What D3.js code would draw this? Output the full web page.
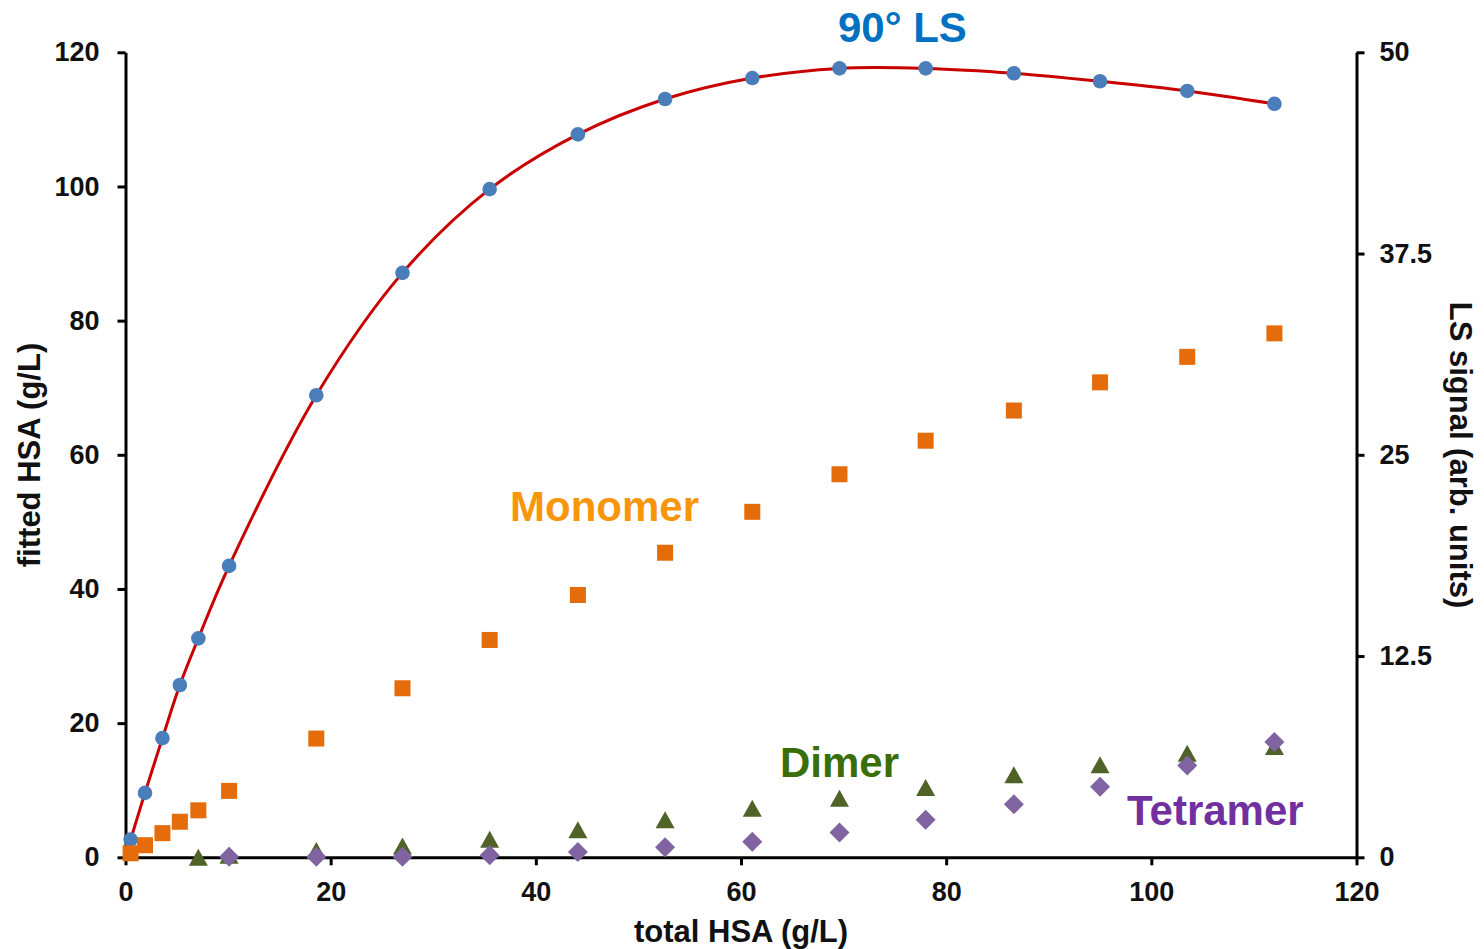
<!DOCTYPE html>
<html><head><meta charset="utf-8">
<script src="https://cdn.jsdelivr.net/npm/d3@7"></script>
<style>
body{margin:0;background:#fff}
text{font-family:"Liberation Sans",Arial,sans-serif}
</style>
</head><body>
<svg id="chart" width="1484" height="949"></svg>
<script>
// ---- data ----
const concX = [0.5,1.9,3.6,5.3,7.1,10.1,18.6,27.0,35.5,44.1,52.6,61.1,69.6,78.0,86.6,95.0,103.5,112.0];
const lsSignal = [1.1,4.0,7.4,10.7,13.6,18.1,28.7,36.3,41.5,44.9,47.1,48.4,49.0,49.0,48.7,48.2,47.6,46.8];
const monomer = [0.6,1.8,3.6,5.3,7.0,9.9,17.7,25.2,32.4,39.1,45.4,51.5,57.1,62.1,66.6,70.8,74.6,78.1];
const dimerX = [7.1,10.1,18.6,27.0,35.5,44.1,52.6,61.1,69.6,78.0,86.6,95.0,103.5,112.0];
const dimer = [0.0,0.3,1.0,1.7,2.7,4.1,5.6,7.3,8.8,10.4,12.3,13.8,15.5,16.5];
const tetramerX = [10.1,18.6,27.0,35.5,44.1,52.6,61.1,69.6,78.0,86.6,95.0,103.5,112.0];
const tetramer = [0.1,0.1,0.1,0.3,0.8,1.5,2.3,3.7,5.6,7.9,10.5,13.7,17.2];
const fitX = [0].concat(concX);
const fitY = [0].concat(lsSignal);
const xTicks = [0,20,40,60,80,100,120];
const yLeftTicks = [0,20,40,60,80,100,120];
const yRightTicks = [0,12.5,25,37.5,50];

const svg = d3.select("#chart");
svg.append("rect").attr("width",1484).attr("height",949).attr("fill","#fff");

const x = d3.scaleLinear().domain([0,120]).range([125.5,1356.5]);
const yL = d3.scaleLinear().domain([0,120]).range([857.3,52.3]);
const yR = d3.scaleLinear().domain([0,50]).range([857.3,52.3]);

function styleAxis(g){
  g.selectAll("path.domain").attr("stroke","#000").attr("stroke-width",3);
  g.selectAll(".tick line").attr("stroke","#000").attr("stroke-width",3);
  g.selectAll(".tick text").attr("font-size","27px").attr("font-weight","bold").attr("fill","#111")
    .style("font-family","'Liberation Sans',Arial,sans-serif");
}

const gx = svg.append("g").attr("transform","translate(0,857.3)")
  .call(d3.axisBottom(x).tickValues(xTicks).tickFormat(d3.format("d")).tickSize(8).tickPadding(17).tickSizeOuter(0));
styleAxis(gx);
const gl = svg.append("g").attr("transform","translate(125.5,0)")
  .call(d3.axisLeft(yL).tickValues(yLeftTicks).tickFormat(d3.format("d")).tickSize(8).tickPadding(18).tickSizeOuter(0));
styleAxis(gl);
const gr = svg.append("g").attr("transform","translate(1356.5,0)")
  .call(d3.axisRight(yR).tickValues(yRightTicks).tickFormat(d=>String(d)).tickSize(8).tickPadding(15).tickSizeOuter(0));
styleAxis(gr);

// fit curve
const line = d3.line().x((d,i)=>x(fitX[i])).y(d=>yR(d)).curve(d3.curveCatmullRom.alpha(0.5));
svg.append("path").datum(fitY).attr("d",line).attr("fill","none").attr("stroke","#c80000").attr("stroke-width",3);

// LS circles
svg.append("g").selectAll("circle").data(lsSignal).join("circle")
  .attr("cx",(d,i)=>x(concX[i])).attr("cy",d=>yR(d)).attr("r",7.3).attr("fill","#4a7ebb");

// Monomer squares
svg.append("g").selectAll("rect").data(monomer).join("rect")
  .attr("x",(d,i)=>x(concX[i])-8).attr("y",d=>yL(d)-8).attr("width",16).attr("height",16).attr("fill","#e46c0a");

// Dimer triangles
svg.append("g").selectAll("path").data(dimer).join("path")
  .attr("transform",(d,i)=>`translate(${x(dimerX[i])},${yL(d)})`)
  .attr("d","M0,-8.5L9.5,8.5L-9.5,8.5Z").attr("fill","#4f6228");

// Tetramer diamonds
svg.append("g").selectAll("path").data(tetramer).join("path")
  .attr("transform",(d,i)=>`translate(${x(tetramerX[i])},${yL(d)})`)
  .attr("d","M0,-10L10,0L0,10L-10,0Z").attr("fill","#8064a2");

// axis titles
svg.append("text").attr("x",741).attr("y",942).attr("text-anchor","middle")
  .attr("font-size","31px").attr("font-weight","bold").attr("fill","#111").text("total HSA (g/L)");
svg.append("text").attr("transform","translate(40,455) rotate(-90)").attr("text-anchor","middle")
  .attr("font-size","31px").attr("font-weight","bold").attr("fill","#111").text("fitted HSA (g/L)");
svg.append("text").attr("transform","translate(1450,455) rotate(90)").attr("text-anchor","middle")
  .attr("font-size","31px").attr("font-weight","bold").attr("fill","#111").text("LS signal (arb. units)");

// series labels
svg.append("text").attr("x",838).attr("y",42).attr("font-size","42px").attr("font-weight","bold").attr("fill","#0070c0").text("90° LS");
svg.append("text").attr("x",510).attr("y",521).attr("font-size","42px").attr("font-weight","bold").attr("fill","#f7960a").text("Monomer");
svg.append("text").attr("x",780).attr("y",777).attr("font-size","42px").attr("font-weight","bold").attr("fill","#3a6e08").text("Dimer");
svg.append("text").attr("x",1127).attr("y",825).attr("font-size","42px").attr("font-weight","bold").attr("fill","#7030a0").text("Tetramer");
</script>
</body></html>
